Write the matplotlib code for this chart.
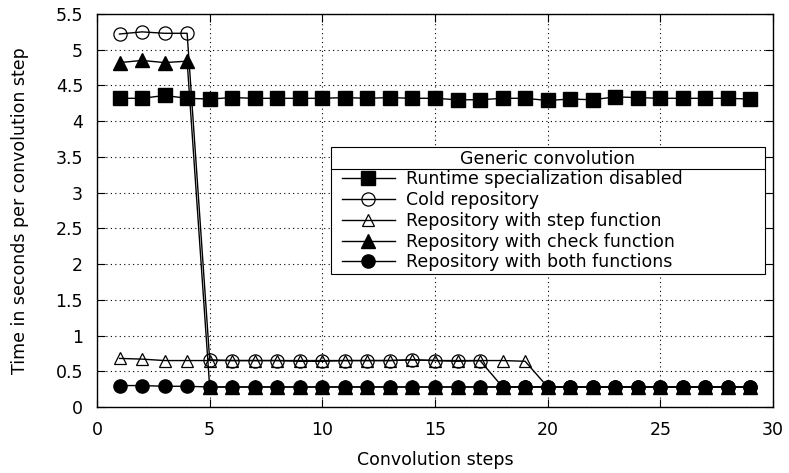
import matplotlib
matplotlib.use("Agg")
import matplotlib.pyplot as plt
from matplotlib.legend_handler import HandlerLine2D
import numpy as np

steps = list(range(1, 30))
disabled = [4.32, 4.32, 4.36, 4.32, 4.31, 4.33, 4.32, 4.32, 4.32, 4.32, 4.33, 4.32, 4.33, 4.32,
            4.32, 4.30, 4.30, 4.32, 4.32, 4.29, 4.31, 4.30, 4.34, 4.33, 4.32, 4.32, 4.32, 4.32, 4.31]
cold = [5.22, 5.25, 5.23, 5.23] + [0.66, 0.65, 0.65, 0.65, 0.64, 0.64, 0.65, 0.65, 0.65, 0.66,
        0.65, 0.64, 0.65] + [0.28] * 12
step_fn = [0.68, 0.67, 0.65, 0.65, 0.65, 0.65, 0.65, 0.65, 0.65, 0.65, 0.65, 0.65, 0.65, 0.66,
           0.65, 0.65, 0.65, 0.65, 0.64] + [0.28] * 10
check_fn = [4.82, 4.85, 4.82, 4.84] + [0.28] * 25
both_fn = [0.30, 0.30, 0.29, 0.29, 0.28, 0.28, 0.28, 0.28, 0.28, 0.28, 0.28, 0.28, 0.28, 0.28,
           0.28, 0.28, 0.28, 0.28, 0.28, 0.28, 0.28, 0.28, 0.28, 0.28, 0.28, 0.28, 0.28, 0.28, 0.28]

labels = ["Runtime specialization disabled", "Cold repository", "Repository with step function",
          "Repository with check function", "Repository with both functions"]
xticks = [0, 5, 10, 15, 20, 25, 30]
yticks = [0, 0.5, 1, 1.5, 2, 2.5, 3, 3.5, 4, 4.5, 5, 5.5]
ytick_labels = ["0", "0.5", "1", "1.5", "2", "2.5", "3", "3.5", "4", "4.5", "5", "5.5"]

FS = 12.5
plt.rcParams['font.family'] = ['DejaVu Sans']
fig = plt.figure(figsize=(7.89, 4.73), dpi=100)
W, H = 789, 473
ax = fig.add_axes([97/W, 1-407/H, (773-97)/W, (407-14)/H])

lw = 1.0
ax.plot(steps, disabled, color='black', lw=lw, marker='s', ms=9.5, mfc='black', mec='black', label=labels[0], zorder=3)
ax.plot(steps, cold, color='black', lw=lw, marker='o', ms=9.5, mfc='none', mec='black', mew=0.9, label=labels[1], zorder=4)
ax.plot(steps, step_fn, color='black', lw=lw, marker='^', ms=9, mfc='none', mec='black', mew=0.9, label=labels[2], zorder=5)
ax.plot(steps, check_fn, color='black', lw=lw, marker='^', ms=9.5, mfc='black', mec='black', label=labels[3], zorder=6)
ax.plot(steps, both_fn, color='black', lw=lw, marker='o', ms=9.5, mfc='black', mec='black', label=labels[4], zorder=7)

ax.set_xlim(0, 30)
ax.set_ylim(0, 5.5)
ax.set_xticks(xticks)
ax.set_yticks(yticks)
ax.set_yticklabels(ytick_labels)
ax.tick_params(direction='in', top=True, right=True, labelsize=FS, length=6, width=0.8, pad=10)
ax.grid(True, color='black', linestyle=(0, (1, 3)), lw=0.8)
for s in ax.spines.values():
    s.set_linewidth(1.0)
ax.set_xlabel("Convolution steps", fontsize=FS, labelpad=8.5)
ax.set_ylabel("Time in seconds per convolution step", fontsize=FS, labelpad=19)

x0, x1, ytop, ybot = 331, 765, 147, 272
xpad = 0.46
leg = ax.legend(title="Generic convolution", loc='upper left', mode='expand',
                bbox_to_anchor=fig.transFigure.inverted().transform([x0, H-ybot]).tolist() + [(x1-x0)/W, (ybot-ytop)/H],
                bbox_transform=fig.transFigure,
                handler_map={plt.Line2D: HandlerLine2D(xpad=xpad)},
                fontsize=FS, title_fontsize=FS, frameon=True, fancybox=False, edgecolor='black',
                framealpha=1, handlelength=3.1 + xpad, handletextpad=0.6, borderpad=0.15, labelspacing=0.16,
                borderaxespad=0)
leg.get_frame().set_linewidth(0.8)
leg.set_zorder(10)

fig.canvas.draw()
bb = leg.get_window_extent().transformed(fig.transFigure.inverted())
tb = leg.get_title().get_window_extent().transformed(fig.transFigure.inverted())
ysep = tb.y0 - 0.002
line = plt.Line2D([bb.x0, bb.x1], [ysep, ysep], transform=fig.transFigure, color='black', lw=0.8, zorder=11)
fig.add_artist(line)

fig.savefig("out.png", dpi=100)
